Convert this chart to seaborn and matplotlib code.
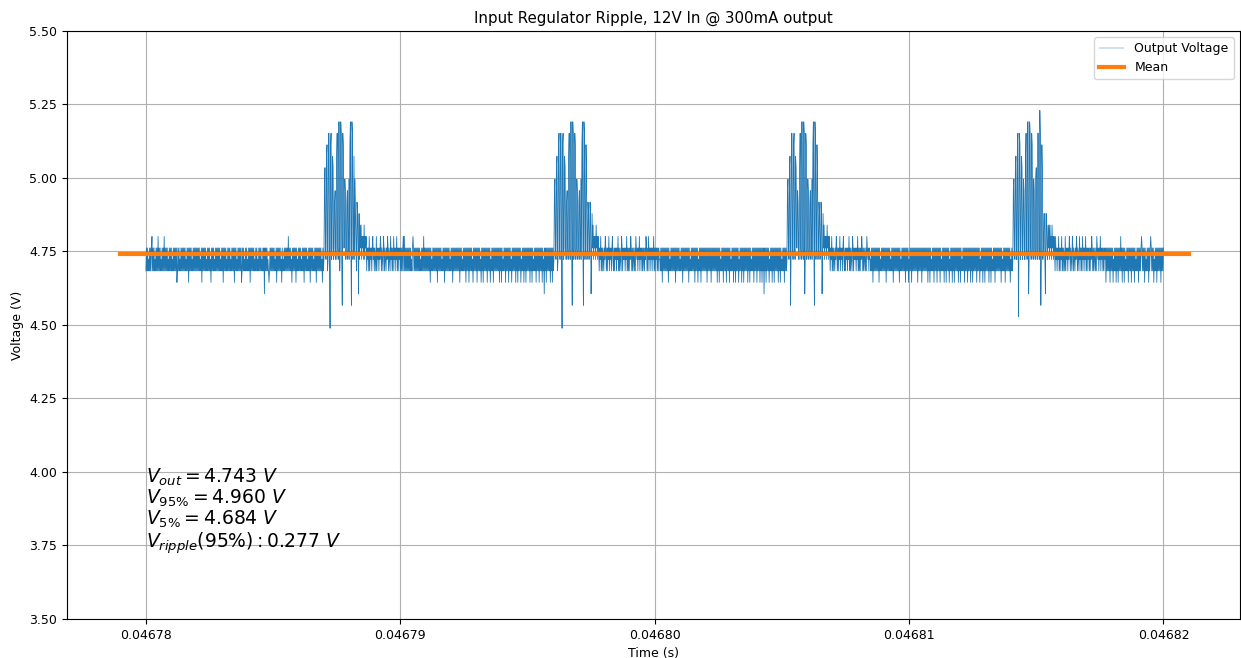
import numpy as np
import pandas as pd
import matplotlib
matplotlib.use("Agg")
import matplotlib.pyplot as plt
from matplotlib.ticker import FormatStrFormatter, MultipleLocator
import seaborn as sns

# Scope capture window (s)
T_START = 0.04678
T_END = 0.04682

# ADC output levels (V), one code character per level
LEVEL_CODES = "0123456789abcdefghij"
LEVELS = [4.489, 4.528, 4.567, 4.606, 4.645, 4.684, 4.723, 4.762, 4.801, 4.840,
          4.879, 4.918, 4.957, 4.996, 5.035, 5.074, 5.113, 5.152, 5.191, 5.230]

# Sampled output voltage, one level code per sample
TRACE = (
    # steady state
    "5757565757 5785757565 7575857575 6575758575 7575657575"
    "7565757575 7457575657 5757575756 5757475757 5657575757"
    "5757575657 4757575756 5757575647 5757565757 5757575657"
    "5747575756 5757575657 5757475756 5757575745 7575657575"
    "6575747575 7575657575 6575757565 7573757575 6545757575"
    "7575657475 7575756475 6575757575 8575756475 7575747565"
    "7575756575 7475757565 7574757575 6575747575 7575756475"
    # switching burst 1
    "6ce7 6fg5 6hh7 0gh6 7fe6 7bc6 6fh7 6ii5 7ih6 2hg7"
    "7dc6 7bc6 7d 6gi72ih67f 6da7 5ba7 3a69 7968786968"
    "7857675857 6757867576 5857675768 7576587576 5768757658 6757586757 6857576757"
    # steady state
    "5757858575 7575757575 6578757575 7575757565 7575857575"
    "7575757475 6575757575 7475757575 6575747575 7575756575"
    "7475757575 7575747575 6575757475 7574757575 6475757574"
    "7575756475 7475757574 7575746575 7475757575 7574757475"
    "6575747575 7475756475 7575747574 7575746575 7475747575"
    "7574757475 6575747575 7475757475 6375747575 7574757475"
    # switching burst 2
    "6cd7 6ef5 6gh7 6hh7 0gh6 7fe7 6bc7 6fh7 6ii7 2ih6 7hg6"
    "7dc6 7bc6 7d 6gi7 2ih6 7ge6 7ba6 7ba3 6a79 6878697868"
    "7576857576 5768757576 8576757865 7576757685 7576587576 6757685757"
    "5768757576 5758767576 8576757576 5768757586 7576757685 7576757576"
    # steady state
    "6575747575 7575757475 6575757575 7475757575 6575747575"
    "7575757475 6575757574 7575746575 7475757575 7574757575"
    "7475757575 7574757475 6575747575 7475757475 6575747574"
    "7575746575 7475747575 7574757475 6575747575 7475757475"
    "7475737574 7575746575 7475747575 7574757475 6575747575"
    # switching burst 3
    "6cd7 6ef2 6hh7 6gh7 6fe7 7cb6 6eh7 6ii7 6ih3 7hg6"
    "7dc6 7bc6 7d 6gi7 2ih6 7ge6 7ba6 7ba3 6a79 6878697868"
    "7576857576 5768757576 8576757865 7576757685 7576587576 6757685757"
    "5768757576 5758767576"
    # steady state
    "6575747575 7575757475 6575757575 7475757575 6575747575"
    "7575757475 6575757574 7575746575 7475757575 7574757575"
    "7475757575 7574757475 6575747575 7475757475 6575747574"
    "7575746575 7475747575 7574757475 6575747575 7475757475"
    "7475757574 7575746575 7475747575 7574757475 6575747575"
    "7575757475 6575747575 7575746575"
    # switching burst 4
    "6cd7 6ef6 6gh1 7hg6 7fe6 7dc6 6fh7 6ii3 6ih7 6hg7"
    "6dc7 6de7 6hh7 6jh2 7ge6 7aa6 3aa7 6979 6978697868"
    "7586757685 7576857576 5857675768 7576587576 5768757658"
    "6757586757 6857576757 5768757576 5758767576 8576757576"
    "7475757574 7575746575 7475747575 8574757475 6575747575"
    "7475757475 6575747575 7875757475 6575747578 7575746575"
    "7475757574 75757"
)

# Summary statistics of the capture (V)
V_MEAN = 4.743
V_95 = 4.960
V_5 = 4.684
V_RIPPLE = 0.277
MEAN_SPAN = [0.046779, 0.046821]

codes = "".join(TRACE.split())
voltage = np.array([LEVELS[LEVEL_CODES.index(c)] for c in codes])
time = np.linspace(T_START, T_END, len(voltage))
trace = pd.DataFrame({"Time (s)": time, "Voltage (V)": voltage})
mean_df = pd.DataFrame({"Time (s)": MEAN_SPAN, "Voltage (V)": [V_MEAN, V_MEAN]})

plt.rcParams["font.family"] = ["DejaVu Sans"]
plt.rcParams["font.size"] = 9
plt.rcParams["axes.grid"] = True

fig = plt.figure(figsize=(12.41, 6.58), dpi=100)
ax = fig.add_axes([0.054, 0.0593, 0.945, 0.8936])

sns.lineplot(data=trace, x="Time (s)", y="Voltage (V)", ax=ax, color="C0",
             linewidth=0.6, estimator=None, sort=False, label="Output Voltage")
sns.lineplot(data=mean_df, x="Time (s)", y="Voltage (V)", ax=ax, color="C1",
             linewidth=3, estimator=None, sort=False, label="Mean")

ax.set_xlim(0.0467769, 0.0468230)
ax.set_ylim(3.5, 5.5)
ax.xaxis.set_major_locator(MultipleLocator(1e-5))
ax.xaxis.set_major_formatter(FormatStrFormatter("%.5f"))
ax.yaxis.set_major_locator(MultipleLocator(0.25))
ax.yaxis.set_major_formatter(FormatStrFormatter("%.2f"))
ax.grid(True, color="#b0b0b0", linewidth=0.8)
ax.set_title("Input Regulator Ripple, 12V In @ 300mA output", fontsize=10.8)
ax.set_xlabel("Time (s)")
ax.set_ylabel("Voltage (V)")

stats = (rf"$V_{{out}} = {V_MEAN:.3f}\ V$" "\n"
         rf"$V_{{95\%}} = {V_95:.3f}\ V$" "\n"
         rf"$V_{{5\%}} = {V_5:.3f}\ V$" "\n"
         rf"$V_{{ripple}}(95\%): {V_RIPPLE:.3f}\ V$")
ax.text(T_START, 3.743, stats, fontsize=13.5, va="baseline", ha="left",
        linespacing=1.0)

leg = ax.legend(loc="upper right")
leg.get_lines()[0].set_linewidth(0.3)

fig.savefig("out.png", dpi=100)
